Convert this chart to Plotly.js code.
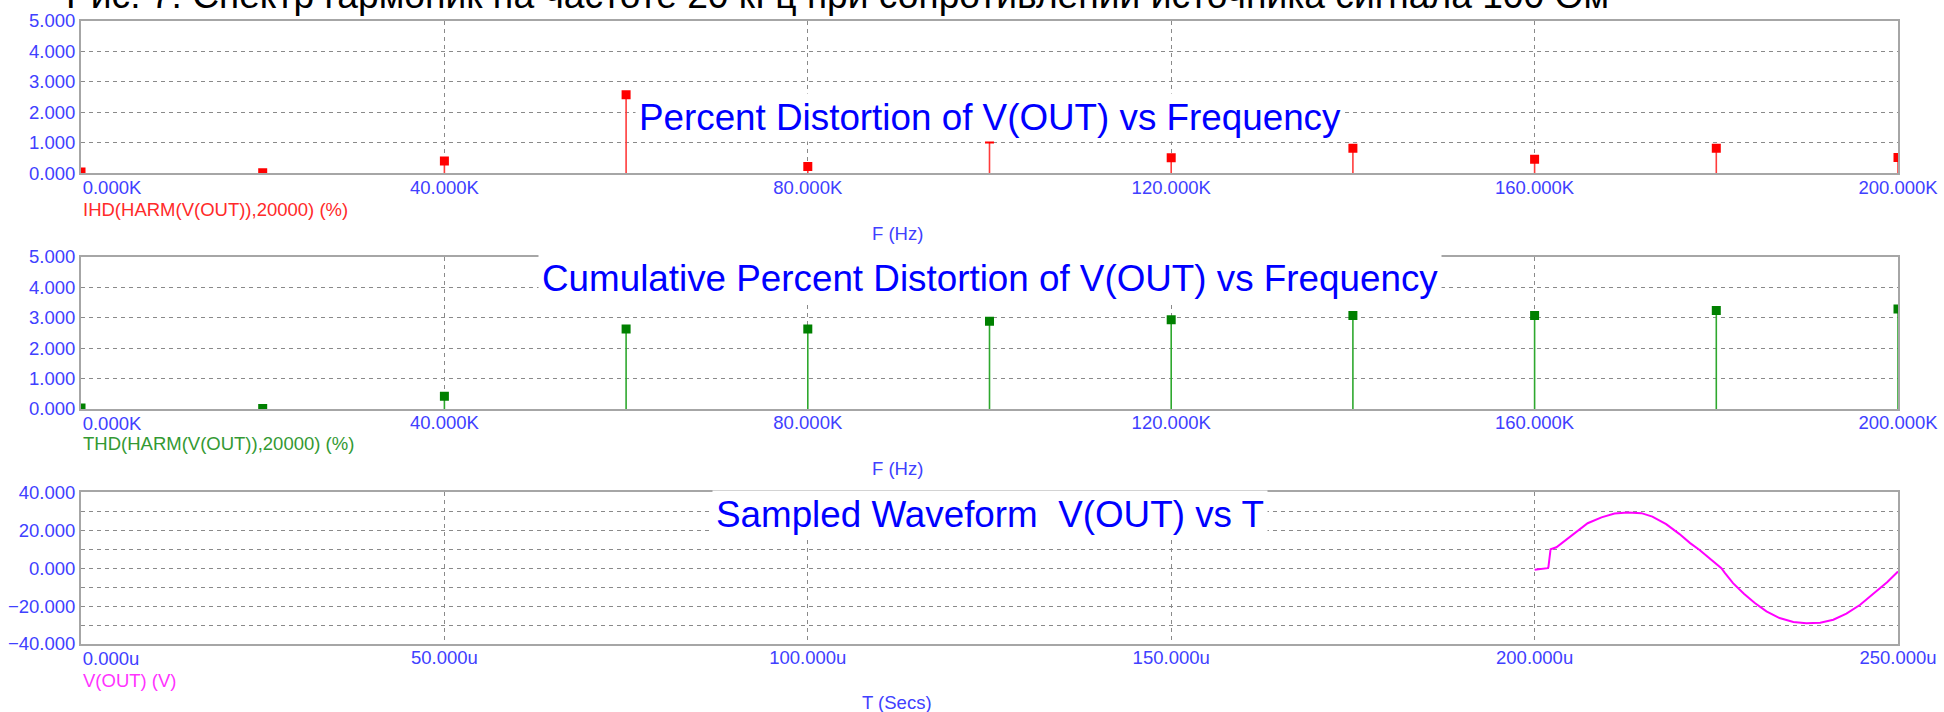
<!DOCTYPE html>
<html>
<head>
<meta charset="utf-8">
<script src="https://cdn.plot.ly/plotly-3.0.1.min.js"></script>
<style>html,body{margin:0;padding:0;background:#fff;overflow:hidden}</style>
</head>
<body>
<div id="chart" style="width:1944px;height:712px"></div>
<script>
// ---------- data ----------
const freqHz = [0, 20000, 40000, 60000, 80000, 100000, 120000, 140000, 160000, 180000, 200000];
const ihdPercent = [0.04, 0.02, 0.40, 2.58, 0.22, 1.13, 0.51, 0.82, 0.46, 0.82, 0.52];
const thdPercent = [0.03, 0.02, 0.42, 2.63, 2.63, 2.88, 2.93, 3.07, 3.07, 3.23, 3.28];

const freqTickVals = [0, 40000, 80000, 120000, 160000, 200000];
const freqTickText = ["0.000K", "40.000K", "80.000K", "120.000K", "160.000K", "200.000K"];
const pctTickVals = [0, 1, 2, 3, 4, 5];

const timeUs = [200.0, 201.8, 201.9, 202.2, 203.0, 204.2, 205.8, 207.3, 209.2, 211.0, 212.8, 214.7,
  216.2, 218.1, 219.9, 221.4, 222.7, 224.2, 225.7, 226.2, 227.3, 228.8, 230.3, 231.9, 233.7,
  235.6, 237.4, 239.3, 241.1, 242.9, 244.8, 246.6, 248.5, 250.0];
const voutV = [-0.9, 0.0, 0.5, 10.0, 11.0, 14.6, 19.6, 23.7, 26.8, 28.8, 29.3, 29.0,
  27.2, 23.2, 18.1, 13.2, 9.6, 4.7, 0.0, -2.6, -7.9, -13.5, -18.4, -22.8, -26.3,
  -28.4, -29.1, -28.8, -27.2, -24.0, -19.3, -13.5, -7.4, -1.8];
const timeTickVals = [0, 50, 100, 150, 200, 250];
const timeTickText = ["0.000u", "50.000u", "100.000u", "150.000u", "200.000u", "250.000u"];

const titleText = "Рис. 7. Спектр гармоник на частоте 20 кГц при сопротивлении источника сигнала 100 Ом";
const plotTitles = ["Percent Distortion of V(OUT) vs Frequency",
                    "Cumulative Percent Distortion of V(OUT) vs Frequency",
                    "Sampled Waveform\u00a0 V(OUT) vs T"];
const ihdLabel = "IHD(HARM(V(OUT)),20000) (%)";
const thdLabel = "THD(HARM(V(OUT)),20000) (%)";
const voutLabel = "V(OUT) (V)";
const freqAxisLabel = "F (Hz)";
const timeAxisLabel = "T (Secs)";

// ---------- styling / geometry ----------
const W = 1944, H = 712;
const M = {l: 81, r: 46, t: 21, b: 68};
const PW = W - M.l - M.r, PH = H - M.t - M.b;
const px = x => (x - M.l) / PW;
const py = y => (H - M.b - y) / PH;

const FONT = "Liberation Sans, Arial, sans-serif";
const TICKC = "#4040ff";
const GRIDC = "#8a8a8a";
const FRAMEC = "#a6a6a6";
const DASH = "4px,4px";
const TICKFONT = {family: FONT, size: 18.5, color: TICKC};

// main x axis: grid, frame and all tick labels but the first one
function xAxis(anchor, vals, text, range) {
  return {
    anchor: anchor, domain: [0, 1], range: range,
    tickmode: "array", tickvals: vals.slice(1), ticktext: text.slice(1),
    showgrid: true, gridcolor: GRIDC, griddash: DASH, gridwidth: 1,
    showline: true, mirror: true, linecolor: FRAMEC, linewidth: 2,
    zeroline: false, ticks: "", ticklabelstandoff: -4,
    tickfont: TICKFONT, fixedrange: true
  };
}
// overlay axis that only carries the first tick label, shifted so it starts at the axis
function xFirstAxis(overlay, anchor, vals, text, range, shift) {
  return {
    overlaying: overlay, anchor: anchor, side: "bottom", range: range,
    tickmode: "array", tickvals: vals.slice(0, 1), ticktext: text.slice(0, 1),
    showgrid: false, showline: false, zeroline: false, ticks: "",
    ticklabelstandoff: 1, ticklabelshift: shift,
    tickfont: TICKFONT, fixedrange: true
  };
}
function yAxis(anchor, domain, range, extra) {
  return Object.assign({
    anchor: anchor, domain: domain, range: range,
    showgrid: true, gridcolor: GRIDC, griddash: DASH, gridwidth: 1,
    showline: true, mirror: true, linecolor: FRAMEC, linewidth: 2,
    zeroline: false, ticks: "", tickformat: ".3f",
    tickfont: TICKFONT, fixedrange: true
  }, extra);
}

const zeros = freqHz.map(() => 0);

const traces = [
  {
    type: "scatter", mode: "markers", x: freqHz, y: ihdPercent, xaxis: "x", yaxis: "y",
    marker: {symbol: "square", size: 9, color: "#ff0000"},
    error_y: {type: "data", symmetric: false, array: zeros, arrayminus: ihdPercent,
              width: 0, thickness: 1.6, color: "#ff3b3b"},
    hoverinfo: "skip"
  },
  {
    type: "scatter", mode: "markers", x: freqHz, y: thdPercent, xaxis: "x2", yaxis: "y2",
    marker: {symbol: "square", size: 9, color: "#008000"},
    error_y: {type: "data", symmetric: false, array: zeros, arrayminus: thdPercent,
              width: 0, thickness: 1.6, color: "#2ea82e"},
    hoverinfo: "skip"
  },
  {
    type: "scatter", mode: "lines", x: timeUs, y: voutV, xaxis: "x3", yaxis: "y3",
    line: {color: "#ff00ff", width: 2}, hoverinfo: "skip"
  },
  // empty traces so the overlay label axes are drawn
  {type: "scatter", mode: "markers", x: [], y: [], xaxis: "x4", yaxis: "y", hoverinfo: "skip"},
  {type: "scatter", mode: "markers", x: [], y: [], xaxis: "x5", yaxis: "y2", hoverinfo: "skip"},
  {type: "scatter", mode: "markers", x: [], y: [], xaxis: "x6", yaxis: "y3", hoverinfo: "skip"}
];

function label(text, x, y, color, xanchor) {
  return {text: text, xref: "paper", yref: "paper", x: px(x), y: py(y),
          xanchor: xanchor, yanchor: "middle", showarrow: false,
          font: {family: FONT, size: 18.5, color: color}};
}
function plotTitle(text, y) {
  return {text: text, xref: "paper", yref: "paper", x: px(990), y: py(y),
          xanchor: "center", yanchor: "middle", showarrow: false,
          bgcolor: "#ffffff", borderpad: 3,
          font: {family: FONT, size: 36.8, color: "#0000ff"}};
}

const layout = {
  width: W, height: H, margin: M,
  paper_bgcolor: "#ffffff", plot_bgcolor: "#ffffff", showlegend: false,
  title: {text: titleText, x: 66 / W, xanchor: "left", xref: "container",
          y: 1 - 8 / H, yref: "container", yanchor: "bottom",
          font: {family: FONT, size: 37.2, color: "#000000"}},
  xaxis: xAxis("y", freqTickVals, freqTickText, [0, 200000]),
  xaxis2: xAxis("y2", freqTickVals, freqTickText, [0, 200000]),
  xaxis3: xAxis("y3", timeTickVals, timeTickText, [0, 250]),
  xaxis4: xFirstAxis("x", "y", freqTickVals, freqTickText, [0, 200000], 31),
  xaxis5: xFirstAxis("x2", "y2", freqTickVals, freqTickText, [0, 200000], 31),
  xaxis6: xFirstAxis("x3", "y3", timeTickVals, timeTickText, [0, 250], 30),
  yaxis: yAxis("x", [py(173.3), 1], [0, 5], {tickmode: "array", tickvals: pctTickVals}),
  yaxis2: yAxis("x2", [py(409), py(256.7)], [0, 5], {tickmode: "array", tickvals: pctTickVals}),
  yaxis3: yAxis("x3", [0, py(492.3)], [-40, 40], {
    tickmode: "linear", tick0: -40, dtick: 20,
    minor: {dtick: 10, tick0: -40, showgrid: true, gridcolor: GRIDC, griddash: DASH, gridwidth: 1, ticks: ""}
  }),
  annotations: [
    plotTitle(plotTitles[0], 118),
    plotTitle(plotTitles[1], 278.8),
    plotTitle(plotTitles[2], 514.4),
    label(ihdLabel, 81, 210, "#ff2a2a", "left"),
    label(freqAxisLabel, 897, 233, TICKC, "center"),
    label(thdLabel, 81, 443, "#339933", "left"),
    label(freqAxisLabel, 897, 468, TICKC, "center"),
    label(voutLabel, 81, 680, "#ff33ff", "left"),
    label(timeAxisLabel, 897, 702, TICKC, "center")
  ]
};

Plotly.newPlot("chart", traces, layout, {displayModeBar: false, staticPlot: true});
</script>
</body>
</html>
